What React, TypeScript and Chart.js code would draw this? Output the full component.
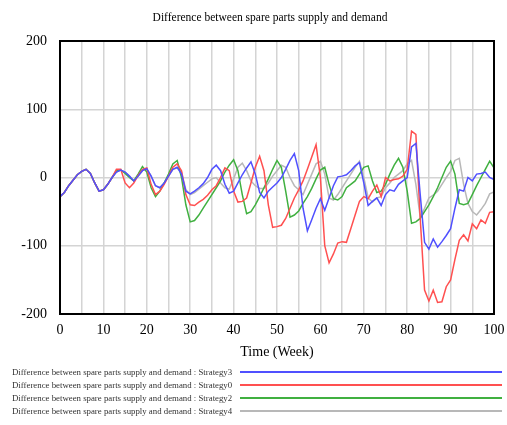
import React, { useEffect, useRef } from "react";
import { Chart, registerables } from "chart.js";

Chart.register(...registerables);

const weeks: number[] = Array.from({ length: 101 }, (_, i) => i);

const strategy3: number[] = [
  -28, -22, -12, -4, 4, 9, 12, 6, -8, -20, -18, -10, 0, 8, 11, 8, 2, -5, 2, 10,
  13, 2, -12, -15, -8, 2, 12, 15, 5, -20, -24, -20, -15, -9, 0, 12, 18, 10, -10, -23,
  -20, -8, 4, 14, 23, 5, -22, -30, -20, -14, -8, 0, 12, 25, 35, 10, -45, -78, -62, -45,
  -31, -48, -30, -12, 1, 2, 4, 10, 17, 22, -8, -41, -35, -30, -41, -25, -18, -20, -10, -5,
  0, 45, 50, -25, -95, -105, -90, -102, -94, -85, -75, -45, -18, -20, 0, -5, 5, 6, 8, 0,
  -3,
];

const strategy0: number[] = [
  -28, -22, -12, -4, 4, 9, 12, 6, -8, -20, -18, -10, 0, 12, 12, -8, -15, -8, 3, 12,
  14, -10, -25, -20, -10, 2, 15, 20, 10, -25, -40, -41, -36, -32, -26, -18, -12, 0, 14, 10,
  -20, -36, -35, -30, -8, 15, 31, 10, -40, -73, -72, -70, -60, -45, -30, -18, -5, 12, 30, 48,
  0, -100, -125, -112, -96, -94, -95, -75, -55, -35, -28, -31, -20, -11, -28, 0, -5, -3, -2, 2,
  12, 68, 63, -60, -165, -181, -165, -183, -182, -160, -150, -120, -92, -84, -93, -68, -75, -62, -67, -51,
  -50,
];

const strategy2: number[] = [
  -28, -22, -12, -4, 4, 9, 12, 6, -8, -20, -18, -10, 0, 10, 11, 6, 0, -5, 5, 16,
  8, -15, -28, -20, -8, 5, 20, 25, 0, -40, -65, -63, -55, -45, -35, -25, -15, -5, 8, 18,
  26, 10, -25, -53, -50, -40, -28, -15, -2, 12, 25, 15, -20, -58, -55, -49, -38, -28, -16, -2,
  11, 15, -10, -31, -33, -28, -15, -10, -5, 5, 15, 17, -5, -22, -20, -10, 5, 18, 28, 15,
  -20, -67, -65, -60, -50, -40, -28, -15, 0, 15, 24, 5, -38, -40, -38, -25, -12, 0, 12, 24,
  14,
];

const strategy4: number[] = [
  -28, -22, -12, -4, 4, 9, 12, 6, -8, -20, -18, -10, 0, 8, 11, 8, 2, -5, 2, 10,
  13, 2, -12, -15, -8, 2, 12, 14, 8, -18, -25, -22, -17, -12, -7, -2, 0, -8, -15, -17,
  -2, 15, 21, 10, -5, -12, -16, -16, -8, 2, 10, 18, 15, 0, -12, -18, -25, -10, 5, 20,
  24, 5, -30, -33, -25, -15, -5, 5, 15, 24, 0, -30, -36, -30, -28, -15, -8, 0, 5, 10,
  20, 25, -10, -58, -45, -30, -26, -20, -10, 0, 9, 25, 28, -10, -38, -50, -55, -47, -38, -24,
  -21,
];

const chartTitle = "Difference between spare parts supply and demand";
const seriesLabels: string[] = [
  "Difference between spare parts supply and demand : Strategy3",
  "Difference between spare parts supply and demand : Strategy0",
  "Difference between spare parts supply and demand : Strategy2",
  "Difference between spare parts supply and demand : Strategy4",
];
const seriesColors: string[] = ["#5050ff", "#ff5050", "#40b040", "#b8b8b8"];
const seriesValues: number[][] = [strategy3, strategy0, strategy2, strategy4];

const xTickLabels: number[] = [0, 10, 20, 30, 40, 50, 60, 70, 80, 90, 100];
const yTickLabels: number[] = [-200, -100, 0, 100, 200];

const SERIF = "'Liberation Serif', 'DejaVu Serif', serif";

const boxPlugin = {
  id: "plotBox",
  afterDatasetsDraw(chart: any) {
    const { ctx, chartArea } = chart;
    ctx.save();
    ctx.strokeStyle = "#000";
    ctx.lineWidth = 2;
    ctx.strokeRect(chartArea.left, chartArea.top, chartArea.right - chartArea.left, chartArea.bottom - chartArea.top);
    ctx.restore();
  },
};

export default function App() {
  const canvasRef = useRef<HTMLCanvasElement | null>(null);

  useEffect(() => {
    if (!canvasRef.current) return;
    const chart = new Chart(canvasRef.current, {
      type: "line",
      data: {
        datasets: seriesValues.map((vals, i) => ({
          label: seriesLabels[i],
          data: vals.map((v, k) => ({ x: weeks[k], y: v })),
          borderColor: seriesColors[i],
          backgroundColor: seriesColors[i],
          borderWidth: 1.5,
          pointRadius: 0,
          tension: 0,
        })),
      },
      options: {
        responsive: false,
        animation: false,
        devicePixelRatio: 1,
        layout: { padding: { left: 0, right: 13, top: 41, bottom: 61 } },
        plugins: {
          legend: { display: false },
          tooltip: { enabled: false },
          title: { display: false },
        },
        scales: {
          x: {
            type: "linear",
            min: 0,
            max: 100,
            afterBuildTicks: (scale: any) => {
              const t: any[] = [];
              for (let v = 0; v <= 100; v += 5) t.push({ value: v });
              scale.ticks = t;
            },
            afterFit: (scale: any) => {
              scale.height = 50;
              scale.paddingLeft = 0;
              scale.paddingRight = 0;
            },
            ticks: {
              autoSkip: false,
              maxRotation: 0,
              padding: 8,
              color: "#000",
              font: { family: SERIF, size: 14 },
              callback: (v: any) => (xTickLabels.includes(Number(v)) ? String(v) : ""),
            },
            grid: { color: "#d4d4d4", lineWidth: 1.5, drawTicks: false },
            border: { display: false },
            title: {
              display: true,
              text: "Time (Week)",
              color: "#000",
              font: { family: SERIF, size: 14 },
              padding: { top: 0, bottom: 3 },
            },
          },
          y: {
            type: "linear",
            min: -200,
            max: 200,
            afterBuildTicks: (scale: any) => {
              scale.ticks = yTickLabels.map((v) => ({ value: v }));
            },
            afterFit: (scale: any) => {
              scale.width = 60;
              scale.paddingTop = 0;
              scale.paddingBottom = 0;
            },
            ticks: {
              padding: 13,
              color: "#000",
              font: { family: SERIF, size: 14 },
              callback: (v: any) => String(v),
            },
            grid: { color: "#d4d4d4", lineWidth: 1.5, drawTicks: false },
            border: { display: false },
          },
        },
      },
      plugins: [boxPlugin],
    } as any);
    return () => chart.destroy();
  }, []);

  const legendTops = [372, 385, 398, 411];

  return (
    <div style={{ position: "absolute", left: 0, top: 0, width: 507, height: 425, background: "#fff" }}>
      <canvas ref={canvasRef} width={507} height={425} style={{ width: 507, height: 425, display: "block" }} />
      <div
        style={{
          position: "absolute",
          left: 0,
          width: 540,
          top: 9,
          height: 16,
          lineHeight: "16px",
          textAlign: "center",
          fontFamily: SERIF,
          fontSize: 11.5,
          color: "#000",
          whiteSpace: "nowrap",
        }}
      >
        {chartTitle}
      </div>
      {seriesLabels.map((label, i) => (
        <div key={label}>
          <div
            style={{
              position: "absolute",
              left: 12,
              top: legendTops[i] - 6,
              height: 12,
              lineHeight: "12px",
              fontFamily: SERIF,
              fontSize: 8.8,
              color: "#333",
              whiteSpace: "nowrap",
            }}
          >
            {label}
          </div>
          <div
            style={{
              position: "absolute",
              left: 240,
              width: 262,
              top: legendTops[i] - 1,
              height: 2,
              background: seriesColors[i],
            }}
          />
        </div>
      ))}
    </div>
  );
}
